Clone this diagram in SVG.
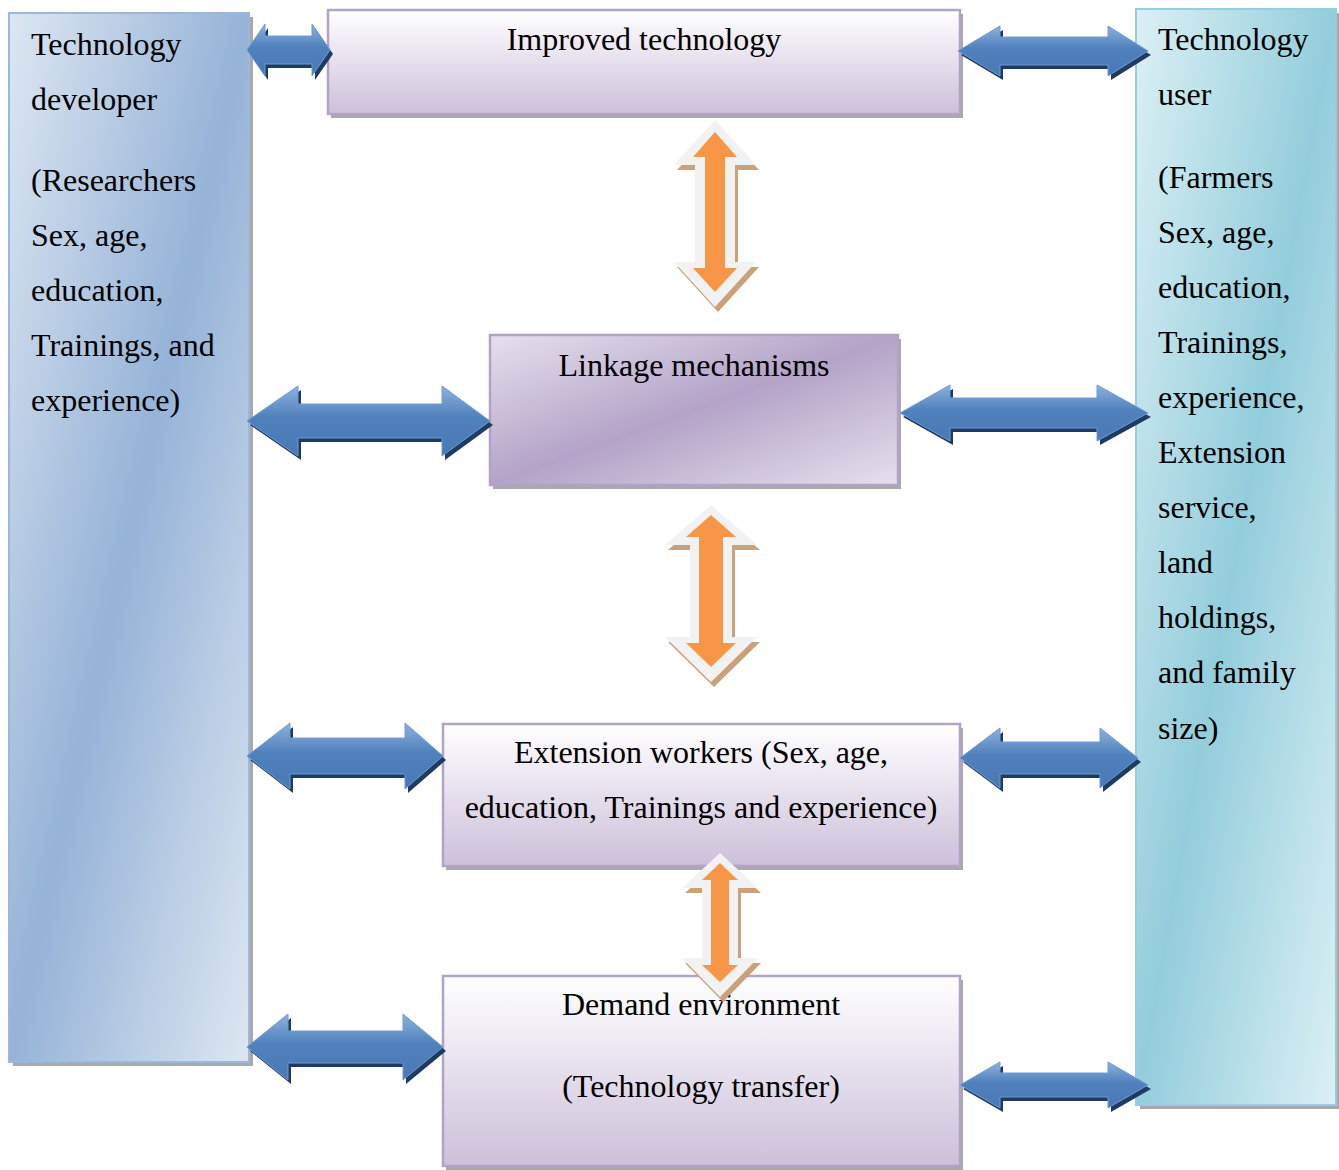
<svg xmlns="http://www.w3.org/2000/svg" width="1339" height="1170" viewBox="0 0 1339 1170">
<defs>
<linearGradient id="gBlue" x1="0" y1="0" x2="1" y2="1">
<stop offset="0" stop-color="#dde7f2"/><stop offset="0.5" stop-color="#95b3d7"/><stop offset="1" stop-color="#dde7f2"/>
</linearGradient>
<linearGradient id="gCyan" x1="0" y1="0" x2="1" y2="1">
<stop offset="0" stop-color="#dcf0f5"/><stop offset="0.5" stop-color="#93cddc"/><stop offset="1" stop-color="#dcf0f5"/>
</linearGradient>
<linearGradient id="gLink" x1="0" y1="0" x2="1" y2="1">
<stop offset="0" stop-color="#e6e0ed"/><stop offset="0.5" stop-color="#b3a3c8"/><stop offset="1" stop-color="#e6e0ed"/>
</linearGradient>
<linearGradient id="gPurp" x1="0" y1="0" x2="0" y2="1">
<stop offset="0" stop-color="#ffffff"/><stop offset="1" stop-color="#ccc0da"/>
</linearGradient>
<linearGradient id="gArrow" x1="0" y1="0" x2="0" y2="1">
<stop offset="0" stop-color="#8fb1dc"/><stop offset="0.45" stop-color="#4f81bd"/><stop offset="1" stop-color="#4a79b4"/>
</linearGradient>
<style>
.t{font-family:"Liberation Serif","Times New Roman",serif;font-size:32px;fill:#000}
.m{text-anchor:middle}
.sh{fill:#8c8c8c;opacity:0.75}
.pb{fill:url(#gPurp);stroke:#b3a2c7;stroke-width:2.5}
.ba{fill:url(#gArrow);stroke:#6f9bd3;stroke-width:1}
.bs{fill:#1f3b62}
.oo{fill:#f2f2f2}
.oi{fill:#f79646}
.os{fill:#c9a27a}
</style>
</defs>

<g id="tech-developer">
<rect class="sh" x="13" y="17" width="240" height="1049"/>
<rect x="9" y="13" width="240" height="1049" fill="url(#gBlue)" stroke="#9bb7da" stroke-width="2"/>
<text class="t" x="31" y="55">Technology</text>
<text class="t" x="31" y="110">developer</text>
<text class="t" x="31" y="191">(Researchers</text>
<text class="t" x="31" y="246">Sex, age,</text>
<text class="t" x="31" y="301">education,</text>
<text class="t" x="31" y="356">Trainings, and</text>
<text class="t" x="31" y="411">experience)</text>
</g>

<g id="tech-user">
<rect class="sh" x="1140" y="13" width="200" height="1096"/>
<rect x="1136" y="9" width="200" height="1096" fill="url(#gCyan)" stroke="#93cfdd" stroke-width="2"/>
<text class="t" x="1158" y="50">Technology</text>
<text class="t" x="1158" y="105">user</text>
<text class="t" x="1158" y="188">(Farmers</text>
<text class="t" x="1158" y="243">Sex, age,</text>
<text class="t" x="1158" y="298">education,</text>
<text class="t" x="1158" y="353">Trainings,</text>
<text class="t" x="1158" y="408">experience,</text>
<text class="t" x="1158" y="463">Extension</text>
<text class="t" x="1158" y="518">service,</text>
<text class="t" x="1158" y="573">land</text>
<text class="t" x="1158" y="628">holdings,</text>
<text class="t" x="1158" y="683">and family</text>
<text class="t" x="1158" y="739">size)</text>
</g>

<g id="improved-technology">
<rect class="sh" x="331" y="14" width="632" height="104"/>
<rect class="pb" x="328" y="10" width="632" height="104"/>
<text class="t m" x="644" y="50">Improved technology</text>
</g>

<g id="linkage-mechanisms">
<rect class="sh" x="493" y="339" width="408" height="150"/>
<rect x="490" y="335" width="408" height="150" fill="url(#gLink)" stroke="#b3a2c7" stroke-width="2.5"/>
<text class="t m" x="694" y="376">Linkage mechanisms</text>
</g>

<g id="extension-workers">
<rect class="sh" x="446" y="728" width="517" height="142"/>
<rect class="pb" x="443" y="724" width="517" height="142"/>
<text class="t m" x="701" y="763">Extension workers (Sex, age,</text>
<text class="t m" x="701" y="818">education, Trainings and experience)</text>
</g>

<g id="demand-environment">
<rect class="sh" x="446" y="980" width="517" height="190"/>
<rect class="pb" x="443" y="976" width="517" height="190"/>
<text class="t m" x="701" y="1015">Demand environment</text>
<text class="t m" x="701" y="1097">(Technology transfer)</text>
</g>

<g id="connectors">
<!-- blue double arrows: shadows -->
<g transform="translate(3,4)" class="bs">
<polygon points="247,50 265,24 265,36 312,36 312,24 330,50 312,76 312,64 265,64 265,76"/>
<polygon points="958,51 1000,26 1000,37 1108,37 1108,26 1148,51 1108,76 1108,65 1000,65 1000,76"/>
<polygon points="247,421 298,386 298,404 442,404 442,386 490,421 442,456 442,438 298,438 298,456"/>
<polygon points="900,413 950,385 950,398 1097,398 1097,385 1148,413 1097,441 1097,428 950,428 950,441"/>
<polygon points="247,756 290,723 290,738 405,738 405,723 443,756 405,789 405,774 290,774 290,789"/>
<polygon points="960,758 1000,728 1000,742 1100,742 1100,728 1138,758 1100,788 1100,774 1000,774 1000,788"/>
<polygon points="247,1047 288,1014 288,1031 403,1031 403,1014 443,1047 403,1080 403,1063 288,1063 288,1080"/>
<polygon points="960,1085 1000,1062 1000,1073 1108,1073 1108,1062 1148,1085 1108,1108 1108,1097 1000,1097 1000,1108"/>
</g>
<g>
<polygon class="ba" points="247,50 265,24 265,36 312,36 312,24 330,50 312,76 312,64 265,64 265,76"/>
<polygon class="ba" points="958,51 1000,26 1000,37 1108,37 1108,26 1148,51 1108,76 1108,65 1000,65 1000,76"/>
<polygon class="ba" points="247,421 298,386 298,404 442,404 442,386 490,421 442,456 442,438 298,438 298,456"/>
<polygon class="ba" points="900,413 950,385 950,398 1097,398 1097,385 1148,413 1097,441 1097,428 950,428 950,441"/>
<polygon class="ba" points="247,756 290,723 290,738 405,738 405,723 443,756 405,789 405,774 290,774 290,789"/>
<polygon class="ba" points="960,758 1000,728 1000,742 1100,742 1100,728 1138,758 1100,788 1100,774 1000,774 1000,788"/>
<polygon class="ba" points="247,1047 288,1014 288,1031 403,1031 403,1014 443,1047 403,1080 403,1063 288,1063 288,1080"/>
<polygon class="ba" points="960,1085 1000,1062 1000,1073 1108,1073 1108,1062 1148,1085 1108,1108 1108,1097 1000,1097 1000,1108"/>
</g>

<!-- orange vertical double arrows -->
<g id="orange-1">
<polygon class="os" transform="translate(3,5)" points="715,120 756,165 735,165 735,262 756,262 715,307 674,262 695,262 695,165 674,165"/>
<polygon class="oo" points="715,120 756,165 735,165 735,262 756,262 715,307 674,262 695,262 695,165 674,165"/>
<polygon class="oi" points="715,132 737,157 725,157 725,268 737,268 715,292 693,268 705,268 705,157 693,157"/>
</g>
<g id="orange-2">
<polygon class="os" transform="translate(3,5)" points="711,505 757,545 732,545 732,637 757,637 711,682 665,637 690,637 690,545 665,545"/>
<polygon class="oo" points="711,505 757,545 732,545 732,637 757,637 711,682 665,637 690,637 690,545 665,545"/>
<polygon class="oi" points="711,515 736,537 723,537 723,643 736,643 711,667 686,643 699,643 699,537 686,537"/>
</g>
<g id="orange-3">
<polygon class="os" transform="translate(3,5)" points="720,853 758,888 738,888 738,958 758,958 720,997 682,958 702,958 702,888 682,888"/>
<polygon class="oo" points="720,853 758,888 738,888 738,958 758,958 720,997 682,958 702,958 702,888 682,888"/>
<polygon class="oi" points="720,863 738,880 729,880 729,965 738,965 720,982 702,965 711,965 711,880 702,880"/>
</g>
</g>
</svg>
